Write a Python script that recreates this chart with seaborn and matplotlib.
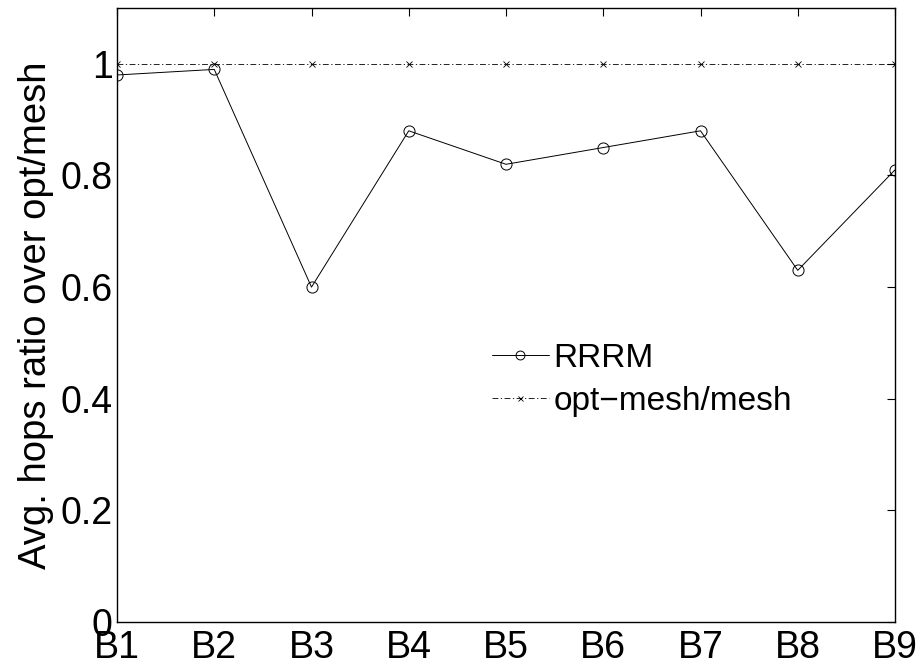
import matplotlib
matplotlib.use("Agg")
import matplotlib.pyplot as plt
import seaborn as sns
import pandas as pd

categories = ["B1", "B2", "B3", "B4", "B5", "B6", "B7", "B8", "B9"]
rrrm = [0.98, 0.99, 0.60, 0.88, 0.82, 0.85, 0.88, 0.63, 0.81]
opt_mesh = [1.0, 1.0, 1.0, 1.0, 1.0, 1.0, 1.0, 1.0, 1.0]
y_ticks = [0, 0.2, 0.4, 0.6, 0.8, 1.0]
y_tick_labels = ["0", "0.2", "0.4", "0.6", "0.8", "1"]

sns.set_style("white")
plt.rcParams["font.family"] = ["Liberation Sans", "DejaVu Sans"]
plt.rcParams["text.color"] = "black"
plt.rcParams["axes.labelcolor"] = "black"

pos = list(range(1, len(categories) + 1))
df = pd.DataFrame({
    "pos": pos * 2,
    "value": rrrm + opt_mesh,
    "series": ["RRRM"] * len(pos) + ["opt\u2212mesh/mesh"] * len(pos),
})

fig = plt.figure(figsize=(9.24, 6.69), dpi=100)
ax = fig.add_axes([117 / 924, 1 - 622 / 669, (895 - 117) / 924, (622 - 8) / 669])

sns.lineplot(data=df[df.series == "RRRM"], x="pos", y="value", ax=ax,
             color="black", lw=0.7, marker="o", markersize=8,
             markerfacecolor="none", markeredgecolor="black", markeredgewidth=0.7,
             label="RRRM")
sns.lineplot(data=df[df.series != "RRRM"], x="pos", y="value", ax=ax,
             color="black", lw=0.6, linestyle=(0, (7, 3, 1.5, 3)), marker="x",
             markersize=4.5, markeredgewidth=0.6, markeredgecolor="black",
             label="opt\u2212mesh/mesh")

ax.set_xlim(1, 9)
ax.set_ylim(0, 1.1)
ax.set_xticks(pos)
ax.set_xticklabels(categories)
ax.set_yticks(y_ticks)
ax.set_yticklabels(y_tick_labels)
ax.set_xlabel("")
ax.set_ylabel("Avg. hops ratio over opt/mesh", fontsize=27.5, labelpad=5)
ax.tick_params(direction="in", length=6, width=0.8, labelsize=27,
               top=True, right=True, pad=3, colors="black")
ax.tick_params(axis="x", pad=6)
for s in ax.spines.values():
    s.set_visible(True)
    s.set_color("black")
    s.set_linewidth(1.0)

leg = ax.legend(loc="upper left", bbox_to_anchor=(0.482, 0.455), frameon=False,
                fontsize=24, handlelength=1.7, handletextpad=0.15,
                labelspacing=0.36, borderaxespad=0, borderpad=0, markerscale=0.8)

fig.savefig("out.png", dpi=100)
